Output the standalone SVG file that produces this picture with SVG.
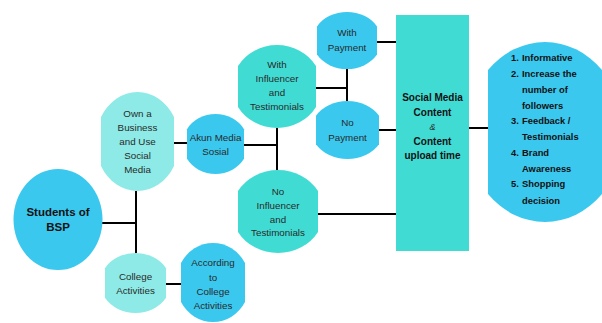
<svg xmlns="http://www.w3.org/2000/svg" width="602" height="323" viewBox="0 0 602 323">
<style>
.blue{fill:#3ac8ef}
.turq{fill:#40dcd4}
.light{fill:#8deae6}
.t{font-family:"Liberation Sans",Arial,sans-serif;font-size:9.8px;fill:#2a2a2a;text-anchor:middle}
.b{font-family:"Liberation Sans",Arial,sans-serif;font-weight:bold;fill:#111;text-anchor:middle}
.l{font-family:"Liberation Sans",Arial,sans-serif;font-weight:bold;font-size:9.4px;fill:#111}
.c{stroke:#000;stroke-width:2;fill:none}
</style>
<rect width="602" height="323" fill="#fff"/>
<g id="connectors">
<path class="c" d="M102,223 H136 M136,191 V253 M174,143 H187 M166,284 H181 M244,145 H277 M277,128 V170 M316,88 H347 M347,69 V101 M377,42 H396 M379,130 H396 M318,214 H396 M469,128 H488"/>
</g>
<g id="students">
<ellipse class="blue" cx="58" cy="219.5" rx="44.5" ry="50.5"/>
<text class="b" style="font-size:11.5px" x="58" y="216">Students of</text>
<text class="b" style="font-size:11.5px" x="58" y="231">BSP</text>
</g>
<g id="own-business">
<path class="light" d="M101,117.1 A41.9,49.5 0 0 1 174,117.1 L174,165.9 A41.9,49.5 0 0 1 101,165.9 Z"/>
<text class="t" x="137.5" y="117.3">Own a</text>
<text class="t" x="137.5" y="131.1">Business</text>
<text class="t" x="137.5" y="144.9">and Use</text>
<text class="t" x="137.5" y="158.7">Social</text>
<text class="t" x="137.5" y="172.5">Media</text>
</g>
<g id="akun-media">
<path class="blue" d="M187,129.2 A32.8,30 0 0 1 244,129.2 L244,158.8 A32.8,30 0 0 1 187,158.8 Z"/>
<text class="t" x="215.5" y="141.4">Akun Media</text>
<text class="t" x="215.5" y="155.4">Sosial</text>
</g>
<g id="college">
<path class="light" d="M105,268.2 A35.1,30 0 0 1 166,268.2 L166,297.8 A35.1,30 0 0 1 105,297.8 Z"/>
<text class="t" x="135.5" y="280.4">College</text>
<text class="t" x="135.5" y="294.4">Activities</text>
</g>
<g id="according">
<path class="blue" d="M181,263 A36.8,39.5 0 0 1 245,263 L245,302 A36.8,39.5 0 0 1 181,302 Z"/>
<text class="t" x="213" y="266.4">According</text>
<text class="t" x="213" y="280.6">to</text>
<text class="t" x="213" y="294.8">College</text>
<text class="t" x="213" y="309">Activities</text>
</g>
<g id="with-influencer">
<path class="turq" d="M238,66 A44.9,41.5 0 0 1 316,66 L316,107 A44.9,41.5 0 0 1 238,107 Z"/>
<text class="t" x="277" y="68.4">With</text>
<text class="t" x="277" y="82.4">Influencer</text>
<text class="t" x="277" y="96.4">and</text>
<text class="t" x="277" y="110.4">Testimonials</text>
</g>
<g id="no-influencer">
<path class="turq" d="M238,191 A46,41.5 0 0 1 318,191 L318,232 A46,41.5 0 0 1 238,232 Z"/>
<text class="t" x="278" y="195.4">No</text>
<text class="t" x="278" y="209.2">Influencer</text>
<text class="t" x="278" y="222.6">and</text>
<text class="t" x="278" y="235.9">Testimonials</text>
</g>
<g id="with-payment">
<path class="blue" d="M317,26.4 A34.5,28.5 0 0 1 377,26.4 L377,54.6 A34.5,28.5 0 0 1 317,54.6 Z"/>
<text class="t" x="347" y="36.4">With</text>
<text class="t" x="347" y="51.4">Payment</text>
</g>
<g id="no-payment">
<path class="blue" d="M316,115.7 A36.2,29 0 0 1 379,115.7 L379,144.3 A36.2,29 0 0 1 316,144.3 Z"/>
<text class="t" x="347.5" y="126.4">No</text>
<text class="t" x="347.5" y="141.4">Payment</text>
</g>
<g id="content">
<rect class="turq" x="396" y="15" width="73" height="236"/>
<text class="b" style="font-size:10px" x="432.5" y="100.5">Social Media</text>
<text class="b" style="font-size:10px" x="432.5" y="115.5">Content</text>
<text class="t" style="font-style:italic;font-size:9px" x="432.5" y="130">&amp;</text>
<text class="b" style="font-size:10px" x="432.5" y="144.5">Content</text>
<text class="b" style="font-size:10px" x="432.5" y="158.5">upload time</text>
</g>
<g id="outcomes">
<path class="blue" d="M488,70 A78.7,90 0 0 1 602,70 L602,194 A78.7,90 0 0 1 488,194 Z"/>
<text class="l" x="511" y="61.3">1.</text><text class="l" x="522" y="61.3">Informative</text>
<text class="l" x="511" y="77.3">2.</text><text class="l" x="522" y="77.3">Increase the</text>
<text class="l" x="522" y="93.3">number of</text>
<text class="l" x="522" y="109.3">followers</text>
<text class="l" x="511" y="124.3">3.</text><text class="l" x="522" y="124.3">Feedback /</text>
<text class="l" x="522" y="140.3">Testimonials</text>
<text class="l" x="511" y="156.3">4.</text><text class="l" x="522" y="156.3">Brand</text>
<text class="l" x="522" y="172.3">Awareness</text>
<text class="l" x="511" y="187.3">5.</text><text class="l" x="522" y="187.3">Shopping</text>
<text class="l" x="522" y="204.3">decision</text>
</g>
</svg>
